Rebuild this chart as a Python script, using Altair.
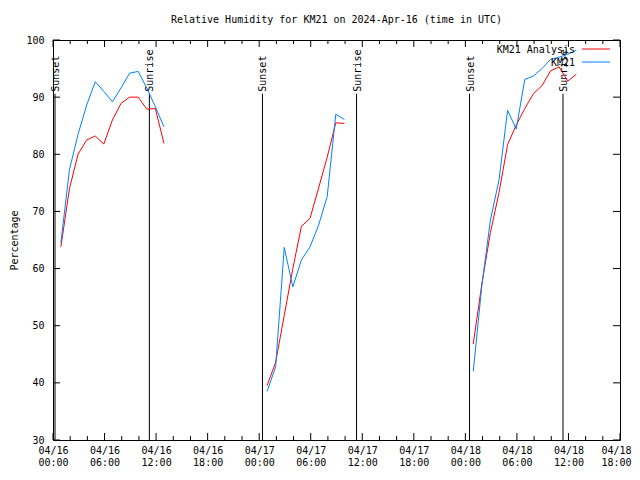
import altair as alt
import pandas as pd

FONT = "DejaVu Sans Mono"
RED = "#ff0000"
BLUE = "#0080ff"

# ---- data ----
series_names = ["KM21 Analysis", "KM21"]

seg1_times = ["2024-04-16T%02d:55:00Z" % h for h in range(0, 13)]
seg2_times = ["2024-04-17T%02d:55:00Z" % h for h in range(0, 10)]
seg3_times = ["2024-04-18T%02d:55:00Z" % h for h in range(0, 13)]

analysis_seg1 = [63.8, 74.0, 80.0, 82.5, 83.2, 81.8, 86.0, 88.9, 90.0, 90.0, 87.9, 88.0, 81.9]
obs_seg1 = [64.5, 77.3, 83.5, 88.6, 92.7, 91.0, 89.2, 91.6, 94.2, 94.5, 91.6, 88.3, 84.8]

analysis_seg2 = [39.5, 43.6, 51.8, 60.0, 67.4, 68.8, 74.1, 79.5, 85.5, 85.4]
obs_seg2 = [38.5, 42.8, 63.7, 56.8, 61.5, 63.8, 67.6, 72.6, 87.0, 86.1]

analysis_seg3 = [46.8, 57.3, 66.3, 73.3, 81.7, 85.1, 88.0, 90.6, 92.0, 94.6, 95.3, 92.8, 94.0]
obs_seg3 = [42.0, 57.0, 68.5, 75.5, 87.7, 84.4, 93.1, 93.7, 95.0, 96.6, 97.0, 97.5, 98.2]

event_labels = ["Sunset", "Sunrise", "Sunset", "Sunrise", "Sunset", "Sunrise"]
event_times = ["2024-04-16T00:14:00Z", "2024-04-16T11:13:00Z",
               "2024-04-17T00:23:00Z", "2024-04-17T11:20:00Z",
               "2024-04-18T00:29:00Z", "2024-04-18T11:22:00Z"]
event_top = 90.6

days = [16, 17, 18]
major_hours = [0, 6, 12, 18]
minor_hours = [2, 4, 8, 10, 14, 16, 20, 22]
y_ticks = [30, 40, 50, 60, 70, 80, 90, 100]

# ---- build tables ----
rows = []
for seg, (times, an, ob) in enumerate([(seg1_times, analysis_seg1, obs_seg1),
                                        (seg2_times, analysis_seg2, obs_seg2),
                                        (seg3_times, analysis_seg3, obs_seg3)]):
    for t, a, o in zip(times, an, ob):
        rows.append({"t": t, "v": a, "series": series_names[0], "seg": seg})
        rows.append({"t": t, "v": o, "series": series_names[1], "seg": seg})
df = pd.DataFrame(rows)

major_ticks = [f"2024-04-{d:02d}T{h:02d}:00:00Z" for d in days for h in major_hours
               if not (d == 18 and h > 18)]
minor_ticks = [f"2024-04-{d:02d}T{h:02d}:00:00Z" for d in days for h in minor_hours
               if not (d == 18 and h > 18)]
df_major = pd.DataFrame({"t": major_ticks})
df_minor = pd.DataFrame({"t": minor_ticks})
df_events = pd.DataFrame({"t": event_times, "label": event_labels})
df_y = pd.DataFrame({"v": y_ticks})

W, H = 567, 400

last_ms = int(pd.Timestamp(major_ticks[-1]).value // 10**6)

xscale = alt.Scale(type="utc", nice=False,
                   domain=[alt.DateTime(year=2024, month=4, date=16, hours=0, utc=True),
                           alt.DateTime(year=2024, month=4, date=18, hours=18, utc=True)])
xaxis = alt.Axis(
    values=[alt.DateTime(year=2024, month=4, date=d, hours=h, utc=True)
            for d in days for h in major_hours if not (d == 18 and h > 18)],
    labelExpr="[utcFormat(datum.value, '%m/%d'), utcFormat(datum.value, '%H:%M')]",
    ticks=False, tickSize=0, domain=False, grid=False, title=None,
    labelFont=FONT, labelFontSize=10, labelColor="black", labelPadding=5,
    labelAngle=0, labelFlush=False, labelOverlap=False, labelLineHeight=12,
    labelOffset={"condition": {"test": f"datum.value >= {last_ms - 1000}", "value": -4},
                 "value": 0},
)
yscale = alt.Scale(domain=[30, 100], nice=False, zero=False)
yaxis = alt.Axis(
    values=y_ticks, ticks=False, tickSize=0, domain=False, grid=False,
    title="Percentage", titleFont=FONT, titleFontSize=10, titleFontWeight="normal",
    titleColor="black", titlePadding=6,
    labelFont=FONT, labelFontSize=10, labelColor="black", labelPadding=9,
)

X = alt.X("t:T", scale=xscale, axis=xaxis)
Y = alt.Y("v:Q", scale=yscale, axis=yaxis)

lines = alt.Chart(df).mark_line(strokeWidth=1, clip=True).encode(
    x=X, y=Y,
    color=alt.Color("series:N", scale=alt.Scale(domain=series_names, range=[RED, BLUE]),
                    legend=None),
    detail="seg:N",
    order=alt.Order("t:T"),
)

# vertical sunrise/sunset lines
ev_lines = alt.Chart(df_events).mark_rule(color="black", strokeWidth=1).encode(
    x=X,
    y=alt.Y(datum=30, type="quantitative", scale=yscale, axis=yaxis),
    y2=alt.Y2(datum=event_top),
)
ev_text = alt.Chart(df_events).mark_text(
    angle=270, align="left", baseline="middle", dx=2, dy=1,
    font=FONT, fontSize=10, color="black",
).encode(
    x=X,
    y=alt.Y(datum=event_top, type="quantitative", scale=yscale, axis=yaxis),
    text="label:N",
)

# inward ticks (gnuplot style)
tick_major_b = alt.Chart(df_major).mark_rule(color="black").encode(
    x=X, y=alt.value(H), y2=alt.value(H - 7))
tick_major_t = alt.Chart(df_major).mark_rule(color="black").encode(
    x=X, y=alt.value(0), y2=alt.value(7))
tick_minor_b = alt.Chart(df_minor).mark_rule(color="black").encode(
    x=X, y=alt.value(H), y2=alt.value(H - 4))
tick_minor_t = alt.Chart(df_minor).mark_rule(color="black").encode(
    x=X, y=alt.value(0), y2=alt.value(4))
tick_y_l = alt.Chart(df_y).mark_rule(color="black").encode(
    y=Y, x=alt.value(0), x2=alt.value(7))
tick_y_r = alt.Chart(df_y).mark_rule(color="black").encode(
    y=Y, x=alt.value(W), x2=alt.value(W - 7))

# legend (gnuplot style: text then sample line)
df_leg = pd.DataFrame({"name": series_names})
leg_text1 = alt.Chart(df_leg.iloc[[0]]).mark_text(
    align="right", baseline="middle", font=FONT, fontSize=10, color="black").encode(
    text="name:N", x=alt.value(522), y=alt.value(10))
leg_text2 = alt.Chart(df_leg.iloc[[1]]).mark_text(
    align="right", baseline="middle", font=FONT, fontSize=10, color="black").encode(
    text="name:N", x=alt.value(522), y=alt.value(23))
leg_line1 = alt.Chart(df_leg.iloc[[0]]).mark_rule(color=RED, strokeWidth=1).encode(
    x=alt.value(529), x2=alt.value(557), y=alt.value(9))
leg_line2 = alt.Chart(df_leg.iloc[[1]]).mark_rule(color=BLUE, strokeWidth=1).encode(
    x=alt.value(529), x2=alt.value(557), y=alt.value(22))

chart = alt.layer(
    tick_major_b, tick_major_t, tick_minor_b, tick_minor_t, tick_y_l, tick_y_r,
    ev_lines, ev_text, lines,
    leg_text1, leg_text2, leg_line1, leg_line2,
).properties(
    width=W, height=H,
    title=alt.TitleParams("Relative Humidity for KM21 on 2024-Apr-16 (time in UTC)",
                          font=FONT, fontSize=10, fontWeight="normal", color="black",
                          anchor="middle", offset=10),
    autosize=alt.AutoSizeParams(type="none"),
    padding={"left": 45, "top": 32, "right": 12, "bottom": 29},
    background="white",
).configure_view(stroke="black", strokeWidth=1)

chart.save("out.html", embed_options={"renderer": "svg", "actions": False})
